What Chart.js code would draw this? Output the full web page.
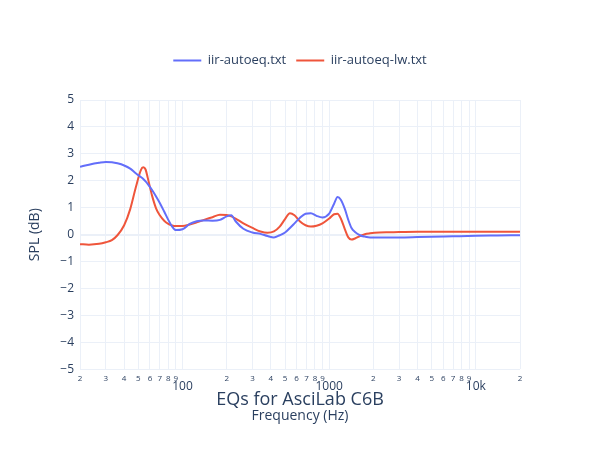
<!DOCTYPE html>
<html>
<head>
<meta charset="utf-8">
<title>EQs for AsciLab C6B</title>
<script src="https://cdn.jsdelivr.net/npm/chart.js@4"></script>
<style>
  html, body { margin: 0; padding: 0; background: #fff; }
</style>
</head>
<body>
<canvas id="eq-chart" width="600" height="450"></canvas>
<script>
// Frequencies (Hz) the two curves were read at
const freqs = [20, 23, 27, 30, 33, 36, 40, 44, 48, 52, 54, 56, 58, 62, 66, 70, 75, 80, 85, 90,
  100, 112, 125, 140, 160, 180, 200, 215, 230, 260, 300, 340, 380, 420, 460, 500, 540, 580,
  630, 690, 750, 820, 900, 1000, 1080, 1140, 1200, 1280, 1350, 1420, 1500, 1620, 1750, 1900,
  2200, 2600, 3000, 4000, 5000, 7000, 10000, 14000, 20000];

// iir-autoeq.txt (dB)
const autoeq = [2.52, 2.6, 2.67, 2.7, 2.69, 2.65, 2.57, 2.45, 2.28, 2.14, 2.07, 1.98, 1.88,
  1.66, 1.42, 1.18, 0.86, 0.55, 0.3, 0.17, 0.2, 0.4, 0.5, 0.53, 0.52, 0.55, 0.68, 0.72, 0.5,
  0.22, 0.08, 0.03, -0.05, -0.1, -0.02, 0.08, 0.25, 0.42, 0.62, 0.78, 0.8, 0.7, 0.64, 0.78,
  1.15, 1.4, 1.3, 0.95, 0.55, 0.25, 0.1, -0.02, -0.07, -0.1, -0.1, -0.1, -0.1, -0.09, -0.08,
  -0.06, -0.04, -0.03, -0.02];

// iir-autoeq-lw.txt (dB)
const autoeqLw = [-0.35, -0.37, -0.34, -0.28, -0.2, -0.02, 0.35, 0.95, 1.75, 2.4, 2.5, 2.42,
  2.1, 1.45, 0.98, 0.72, 0.52, 0.4, 0.34, 0.32, 0.32, 0.38, 0.46, 0.55, 0.65, 0.74, 0.73,
  0.68, 0.6, 0.42, 0.25, 0.12, 0.07, 0.12, 0.3, 0.58, 0.8, 0.72, 0.5, 0.35, 0.3, 0.33, 0.42,
  0.6, 0.76, 0.78, 0.6, 0.2, -0.1, -0.18, -0.14, -0.05, 0.02, 0.05, 0.08, 0.09, 0.1, 0.11,
  0.11, 0.11, 0.11, 0.11, 0.11];

// x axis ticks, plotly style: small digits between the decades
const xTickValues = [20, 30, 40, 50, 60, 70, 80, 90, 100, 200, 300, 400, 500, 600, 700, 800,
  900, 1000, 2000, 3000, 4000, 5000, 6000, 7000, 8000, 9000, 10000, 20000];
const xTickLabels = ["2", "3", "4", "5", "6", "7", "8", "9", "100", "2", "3", "4", "5", "6",
  "7", "8", "9", "1000", "2", "3", "4", "5", "6", "7", "8", "9", "10k", "2"];
const majorTicks = [100, 1000, 10000];

const textColor = "#2a3f5f";
const gridColor = "#ebf0f8";

function toPoints(values) {
  return freqs.map((f, i) => ({ x: f, y: values[i] }));
}

// leave some room between the legend and the plot
const legendGap = {
  id: "legendGap",
  beforeInit(chart) {
    const fit = chart.legend.fit;
    chart.legend.fit = function () {
      fit.call(this);
      this.height += 23;
    };
  },
};

Chart.defaults.font.family = "'Open Sans', sans-serif";
Chart.defaults.color = textColor;

new Chart(document.getElementById("eq-chart"), {
  type: "line",
  data: {
    datasets: [
      {
        label: "iir-autoeq.txt",
        data: toPoints(autoeq),
        borderColor: "#636efa",
        backgroundColor: "#636efa",
        borderWidth: 2,
        pointRadius: 0,
        cubicInterpolationMode: "monotone",
      },
      {
        label: "iir-autoeq-lw.txt",
        data: toPoints(autoeqLw),
        borderColor: "#ef553b",
        backgroundColor: "#ef553b",
        borderWidth: 2,
        pointRadius: 0,
        cubicInterpolationMode: "monotone",
      },
    ],
  },
  options: {
    responsive: false,
    animation: false,
    layout: { padding: { top: 44, right: 0, left: 0, bottom: 26 } },
    plugins: {
      legend: {
        position: "top",
        labels: {
          boxWidth: 28,
          boxHeight: 2,
          padding: 10,
          font: { size: 13 },
          color: textColor,
          generateLabels: (chart) =>
            Chart.defaults.plugins.legend.labels.generateLabels(chart).map((item) => {
              item.lineWidth = 0;
              return item;
            }),
        },
      },
      title: {
        display: true,
        position: "bottom",
        weight: 1400,
        text: "EQs for AsciLab C6B",
        font: { size: 18, weight: "normal", lineHeight: 0.9 },
        padding: { top: -4, bottom: 0 },
        color: textColor,
      },
      subtitle: {
        display: true,
        position: "bottom",
        weight: 1500,
        text: "Frequency (Hz)",
        font: { size: 14, lineHeight: 1.1 },
        padding: { top: 1, bottom: 0 },
        color: textColor,
      },
      tooltip: { enabled: false },
    },
    scales: {
      x: {
        type: "logarithmic",
        min: 20,
        max: 20000,
        afterBuildTicks: (scale) => {
          scale.ticks = xTickValues.map((v) => ({ value: v }));
        },
        afterFit: (scale) => { scale.height = 26; },
        ticks: {
          autoSkip: false,
          maxRotation: 0,
          padding: 5,
          callback: (value) => xTickLabels[xTickValues.indexOf(value)],
          font: (ctx) => (ctx.tick && majorTicks.includes(ctx.tick.value))
            ? { size: 12, lineHeight: 2.03 }
            : { size: 8, lineHeight: 1.2 },
        },
        grid: { color: gridColor, drawTicks: false },
        border: { display: false },
      },
      y: {
        min: -5,
        max: 5,
        afterFit: (scale) => { scale.width = 80; },
        ticks: {
          stepSize: 1,
          padding: 6,
          font: { size: 12 },
          callback: (value) => String(value).replace("-", "\u2212"),
        },
        title: {
          display: true,
          text: "SPL (dB)",
          font: { size: 14 },
          padding: { top: 27, bottom: 0 },
        },
        grid: {
          color: gridColor,
          drawTicks: false,
          lineWidth: (ctx) => (ctx.tick && ctx.tick.value === 0 ? 2 : 1),
        },
        border: { display: false },
      },
      // empty right margin so titles and legend centre on the plot
      yRight: {
        position: "right",
        display: true,
        afterFit: (scale) => { scale.width = 80; },
        ticks: { display: false },
        grid: { display: false },
        border: { display: false },
      },
    },
  },
  plugins: [legendGap],
});
</script>
</body>
</html>
